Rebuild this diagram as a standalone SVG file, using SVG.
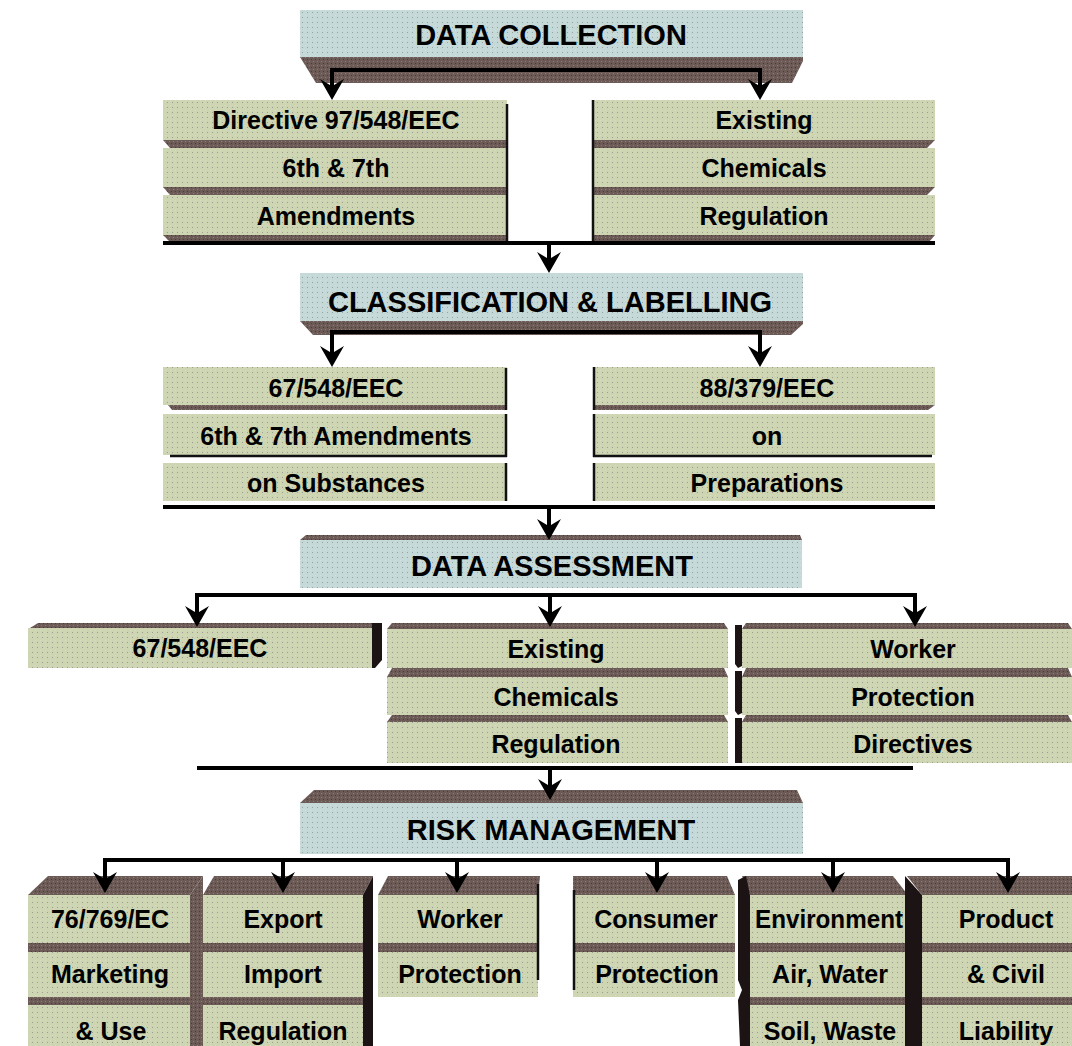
<svg xmlns="http://www.w3.org/2000/svg" width="1072" height="1046" viewBox="0 0 1072 1046">
<defs>
<pattern id="pg" width="5" height="5" patternUnits="userSpaceOnUse"><rect width="5" height="5" fill="#cdd5b2"/><rect x="2" y="2" width="1" height="1" fill="#9c9c94"/><rect x="0" y="0" width="1" height="1" fill="#d8dcc0"/></pattern>
<pattern id="pb" width="5" height="5" patternUnits="userSpaceOnUse"><rect width="5" height="5" fill="#c5d9d9"/><rect x="2" y="2" width="1" height="1" fill="#97a3a3"/><rect x="0" y="0" width="1" height="1" fill="#d2e0e0"/></pattern>
<pattern id="ps" width="4" height="4" patternUnits="userSpaceOnUse"><rect width="4" height="4" fill="#6b5a56"/><rect x="1" y="1" width="1" height="1" fill="#8f8262"/><rect x="3" y="3" width="1" height="1" fill="#4a3c3c"/></pattern>
<marker id="ah" viewBox="-22 -12 22 24" refX="-10" refY="0" markerWidth="22" markerHeight="24" markerUnits="userSpaceOnUse" orient="auto"><path d="M0,0 L-21,-12 L-15,-2 L-15,2 L-21,12 Z" fill="#000"/></marker>
</defs>
<style>
.hd{fill:url(#pb)}
.bx{fill:url(#pg)}
.sh{fill:url(#ps)}
.dk{fill:#1c1414}
.ln{stroke:#111;stroke-width:2.5;fill:none}
.ht{font-family:"Liberation Sans",Arial,sans-serif;font-weight:bold;font-size:29px;fill:#000;text-anchor:middle}
.t{font-family:"Liberation Sans",Arial,sans-serif;font-weight:bold;font-size:25px;fill:#000;text-anchor:middle}
.c{stroke:#000;stroke-width:4;fill:none}
.a{stroke:#000;stroke-width:4;fill:none;marker-end:url(#ah)}
</style>

<g id="data-collection">
<rect class="hd" x="300" y="10" width="503" height="47"/>
<polygon class="sh" points="300,57 803,57 803,61 792,83 316,83"/>
<text class="ht" x="551" y="45">DATA COLLECTION</text>
</g>

<g id="directive-97-548">
<rect class="bx" x="163" y="100" width="344" height="40"/>
<polygon class="sh" points="163,140 507,140 507,148 170,148"/>
<rect class="bx" x="163" y="148" width="344" height="39"/>
<polygon class="sh" points="163,187 507,187 507,195 170,195"/>
<rect class="bx" x="163" y="195" width="344" height="40"/>
<polygon class="sh" points="163,235 507,235 507,242 170,242"/>
<line class="ln" x1="507" y1="104" x2="507" y2="243"/>
<text class="t" x="336" y="129">Directive 97/548/EEC</text>
<text class="t" x="336" y="177">6th &amp; 7th</text>
<text class="t" x="336" y="225">Amendments</text>
</g>

<g id="existing-chemicals-1">
<rect class="bx" x="593" y="100" width="342" height="40"/>
<polygon class="sh" points="593,140 935,140 927,148 593,148"/>
<rect class="bx" x="593" y="148" width="342" height="39"/>
<polygon class="sh" points="593,187 935,187 927,195 593,195"/>
<rect class="bx" x="593" y="195" width="342" height="40"/>
<polygon class="sh" points="593,235 935,235 929,242 593,242"/>
<line class="ln" x1="593" y1="100" x2="593" y2="245"/>
<text class="t" x="764" y="129">Existing</text>
<text class="t" x="764" y="177">Chemicals</text>
<text class="t" x="764" y="225">Regulation</text>
</g>

<g id="classification-labelling">
<rect class="hd" x="300" y="273" width="503" height="48"/>
<polygon class="sh" points="300,321 803,321 803,324 791,335 313,335"/>
<text class="ht" x="550" y="312">CLASSIFICATION &amp; LABELLING</text>
</g>

<g id="cl-67-548">
<rect class="bx" x="163" y="367" width="344" height="38"/>
<polygon class="sh" points="168,405 507,405 507,410 172,410"/>
<line class="ln" x1="506" y1="368" x2="506" y2="410"/>
<rect class="bx" x="163" y="414" width="344" height="41"/>
<line class="ln" x1="170" y1="456" x2="507" y2="456"/>
<line class="ln" x1="506" y1="414" x2="506" y2="457"/>
<rect class="bx" x="163" y="463" width="344" height="38"/>
<line class="ln" x1="506" y1="463" x2="506" y2="501"/>
<text class="t" x="336" y="397">67/548/EEC</text>
<text class="t" x="336" y="445">6th &amp; 7th Amendments</text>
<text class="t" x="336" y="492">on Substances</text>
</g>

<g id="cl-88-379">
<rect class="bx" x="593" y="367" width="342" height="38"/>
<polygon class="sh" points="593,405 935,405 928,410 593,410"/>
<line class="ln" x1="594" y1="367" x2="594" y2="410"/>
<rect class="bx" x="593" y="414" width="342" height="41"/>
<line class="ln" x1="593" y1="456" x2="932" y2="456"/>
<line class="ln" x1="594" y1="414" x2="594" y2="457"/>
<rect class="bx" x="593" y="463" width="342" height="38"/>
<line class="ln" x1="594" y1="463" x2="594" y2="501"/>
<text class="t" x="767" y="397">88/379/EEC</text>
<text class="t" x="767" y="445">on</text>
<text class="t" x="767" y="492">Preparations</text>
</g>

<g id="data-assessment">
<polygon class="sh" points="306,535 800,535 802,540 300,540"/>
<rect class="hd" x="300" y="540" width="502" height="48"/>
<text class="ht" x="552" y="576">DATA ASSESSMENT</text>
</g>

<g id="da-67-548">
<polygon class="sh" points="30,628 38,623 372,623 372,628"/>
<rect class="bx" x="28" y="628" width="344" height="40"/>
<polygon class="dk" points="372,623 382,623 382,660 375,668 372,668"/>
<text class="t" x="200" y="657">67/548/EEC</text>
</g>

<g id="da-existing-chemicals">
<polygon class="sh" points="392,623 724,623 728,629 387,629"/>
<rect class="bx" x="387" y="629" width="341" height="39"/>
<polygon class="sh" points="392,668 724,668 728,677 387,677"/>
<rect class="bx" x="387" y="677" width="341" height="38"/>
<polygon class="sh" points="392,715 724,715 728,722 387,722"/>
<rect class="bx" x="387" y="722" width="341" height="41"/>
<text class="t" x="556" y="658">Existing</text>
<text class="t" x="556" y="706">Chemicals</text>
<text class="t" x="556" y="753">Regulation</text>
</g>

<g id="da-worker-protection">
<polygon class="sh" points="746,623 1068,623 1072,629 742,629"/>
<rect class="bx" x="742" y="629" width="330" height="39"/>
<polygon class="sh" points="746,668 1068,668 1072,677 742,677"/>
<rect class="bx" x="742" y="677" width="330" height="38"/>
<polygon class="sh" points="746,715 1068,715 1072,722 742,722"/>
<rect class="bx" x="742" y="722" width="330" height="41"/>
<polygon class="dk" points="735,625 742,625 742,666 738,668 735,664"/>
<polygon class="dk" points="735,671 742,671 742,713 738,715 735,711"/>
<polygon class="dk" points="735,718 742,718 742,763 735,763"/>
<text class="t" x="913" y="658">Worker</text>
<text class="t" x="913" y="706">Protection</text>
<text class="t" x="913" y="753">Directives</text>
</g>

<g id="risk-management">
<polygon class="sh" points="300,803 314,790 797,790 803,803"/>
<rect class="hd" x="300" y="803" width="503" height="51"/>
<text class="ht" x="551" y="840">RISK MANAGEMENT</text>
</g>

<g id="rm-76-769">
<polygon class="sh" points="28,895 48,876 203,876 190,895"/>
<polygon class="sh" points="190,895 203,876 203,1046 190,1046"/>
<rect class="bx" x="28" y="895" width="162" height="48"/>
<rect class="sh" x="28" y="943" width="162" height="9"/>
<rect class="bx" x="28" y="952" width="162" height="45"/>
<rect class="sh" x="28" y="997" width="162" height="8"/>
<rect class="bx" x="28" y="1005" width="162" height="41"/>
<text class="t" x="110" y="928">76/769/EC</text>
<text class="t" x="110" y="983">Marketing</text>
<text class="t" x="111" y="1040">&amp; Use</text>
</g>

<g id="rm-export-import">
<polygon class="sh" points="203,895 214,876 373,876 363,895"/>
<polygon class="dk" points="363,895 373,876 373,1046 363,1046"/>
<rect class="bx" x="203" y="895" width="160" height="48"/>
<rect class="sh" x="203" y="943" width="160" height="9"/>
<rect class="bx" x="203" y="952" width="160" height="45"/>
<rect class="sh" x="203" y="997" width="160" height="8"/>
<rect class="bx" x="203" y="1005" width="160" height="41"/>
<text class="t" x="283" y="928">Export</text>
<text class="t" x="283" y="983">Import</text>
<text class="t" x="283" y="1040">Regulation</text>
</g>

<g id="rm-worker-protection">
<polygon class="sh" points="378,895 388,876 540,876 538,895"/>
<rect class="bx" x="378" y="895" width="160" height="48"/>
<rect class="sh" x="378" y="943" width="160" height="9"/>
<rect class="bx" x="378" y="952" width="160" height="45"/>
<line class="ln" x1="538" y1="884" x2="538" y2="980"/>
<text class="t" x="460" y="928">Worker</text>
<text class="t" x="460" y="983">Protection</text>
</g>

<g id="rm-consumer-protection">
<polygon class="sh" points="573,895 573,876 727,876 735,895"/>
<rect class="bx" x="573" y="895" width="162" height="48"/>
<rect class="sh" x="573" y="943" width="162" height="9"/>
<rect class="bx" x="573" y="952" width="162" height="45"/>
<line class="ln" x1="574" y1="890" x2="574" y2="990"/>
<text class="t" x="656" y="928">Consumer</text>
<text class="t" x="657" y="983">Protection</text>
</g>

<g id="rm-environment">
<polygon class="sh" points="750,895 742,876 893,876 908,895"/>
<polygon class="dk" points="738,880 746,876 750,895 750,1046 740,1046 738,1000 742,990 738,980"/>
<rect class="bx" x="750" y="895" width="158" height="48"/>
<rect class="sh" x="750" y="943" width="158" height="9"/>
<rect class="bx" x="750" y="952" width="158" height="45"/>
<rect class="sh" x="750" y="997" width="158" height="8"/>
<rect class="bx" x="750" y="1005" width="158" height="41"/>
<text class="t" x="829" y="928" textLength="148" lengthAdjust="spacingAndGlyphs">Environment</text>
<text class="t" x="830" y="983">Air, Water</text>
<text class="t" x="830" y="1040">Soil, Waste</text>
</g>

<g id="rm-product-liability">
<polygon class="sh" points="922,895 907,876 1072,876 1072,895"/>
<polygon class="dk" points="905,876 922,895 922,1046 905,1046"/>
<rect class="bx" x="922" y="895" width="150" height="48"/>
<rect class="sh" x="922" y="943" width="150" height="9"/>
<rect class="bx" x="922" y="952" width="150" height="45"/>
<rect class="sh" x="922" y="997" width="150" height="8"/>
<rect class="bx" x="922" y="1005" width="150" height="41"/>
<text class="t" x="1006" y="928">Product</text>
<text class="t" x="1006" y="983">&amp; Civil</text>
<text class="t" x="1006" y="1040">Liability</text>
</g>

<g id="connectors">
<path class="c" d="M330,70 H762"/>
<path class="a" d="M332,70 V90"/>
<path class="a" d="M760,70 V90"/>
<path class="c" d="M163,243 H935"/>
<path class="a" d="M549,243 V263"/>
<path class="c" d="M330,332 H762"/>
<path class="a" d="M332,332 V357"/>
<path class="a" d="M760,332 V357"/>
<path class="c" d="M163,507 H935"/>
<path class="a" d="M549,507 V530"/>
<path class="c" d="M195,595 H917"/>
<path class="a" d="M197,595 V617"/>
<path class="a" d="M550,595 V617"/>
<path class="a" d="M915,595 V617"/>
<path class="c" d="M197,768 H913"/>
<path class="a" d="M550,768 V790"/>
<path class="c" d="M103,860 H1010"/>
<path class="a" d="M105,860 V883"/>
<path class="a" d="M283,860 V883"/>
<path class="a" d="M457,860 V883"/>
<path class="a" d="M657,860 V883"/>
<path class="a" d="M833,860 V883"/>
<path class="a" d="M1008,860 V883"/>
</g>
</svg>
